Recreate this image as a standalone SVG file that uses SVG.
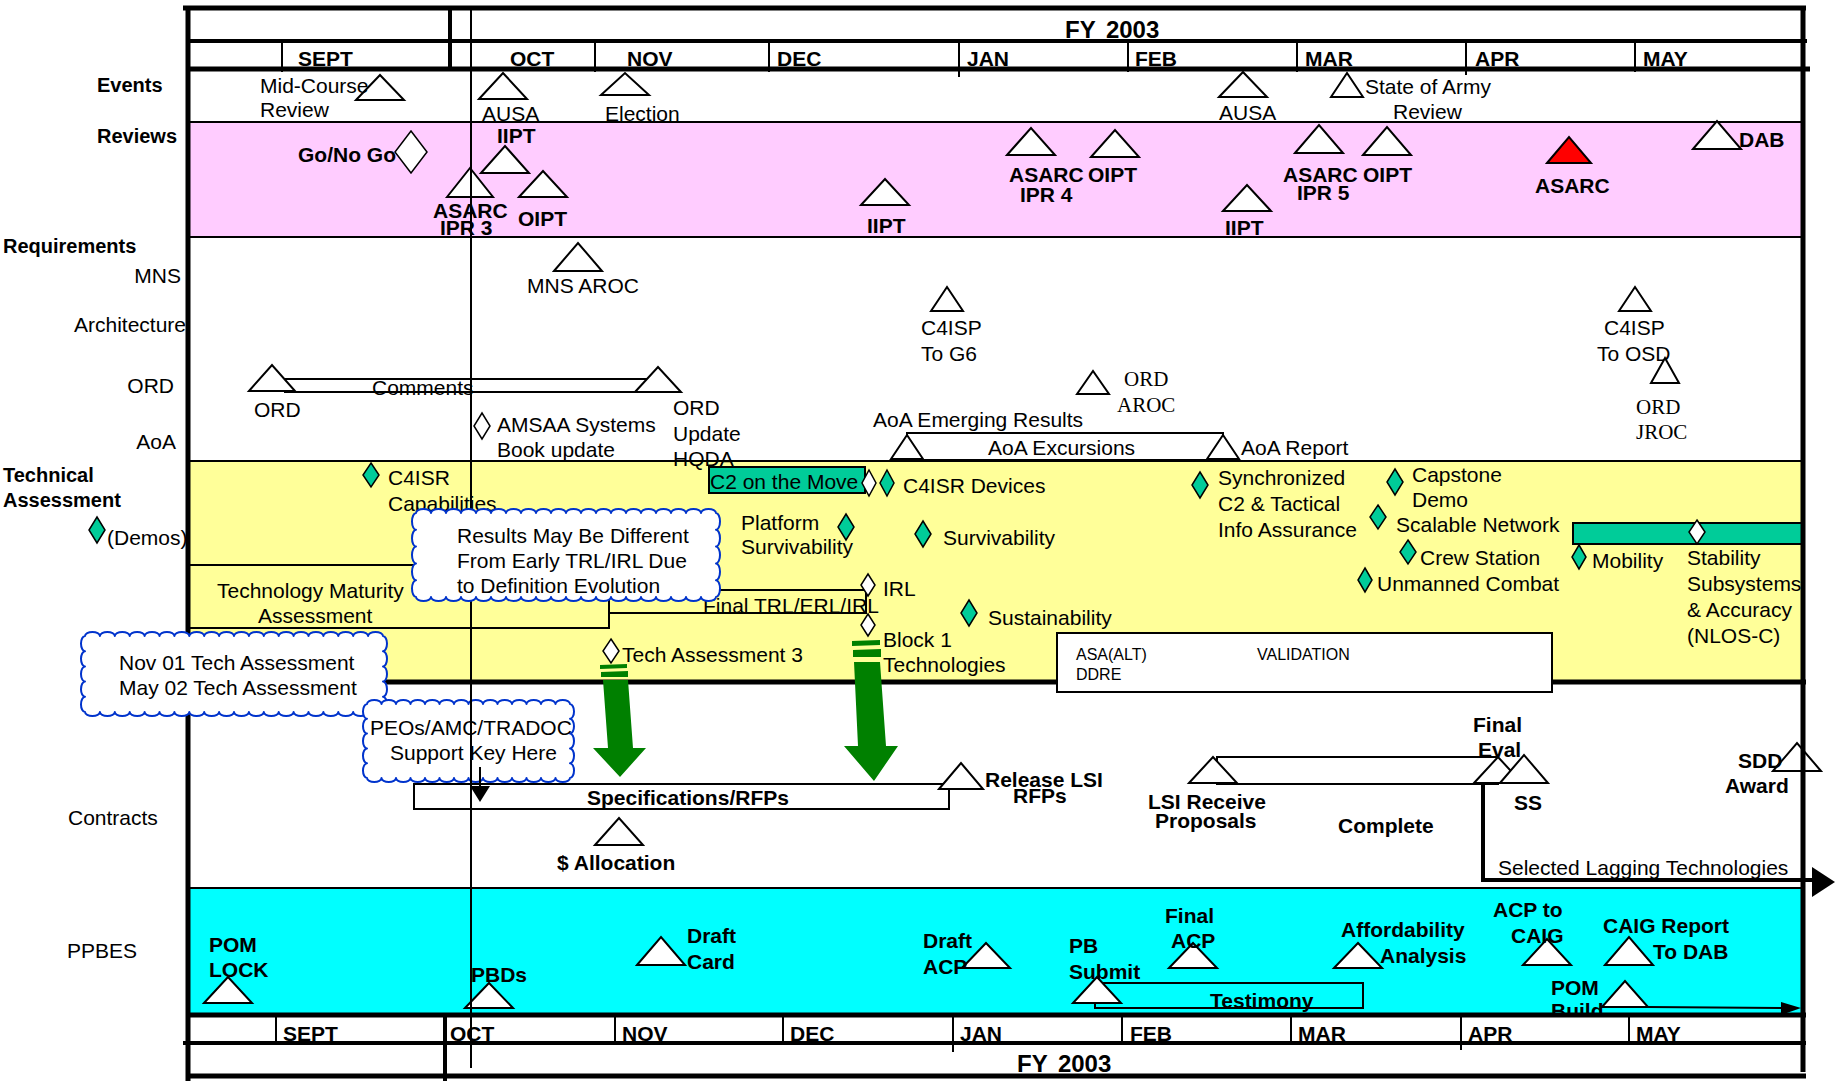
<svg xmlns="http://www.w3.org/2000/svg" width="1835" height="1081" viewBox="0 0 1835 1081">
<defs>
<style>
text{font-family:"Liberation Sans",Arial,sans-serif;font-size:21px;fill:#000}
.b{font-weight:bold}
.lb{font-weight:bold;font-size:20px}
.m{font-weight:bold;font-size:21px}
.fy{font-weight:bold;font-size:24px;word-spacing:4px}
.sf{font-family:"Liberation Serif","Times New Roman",serif}
.sm{font-size:16px}
.tri{fill:#fff;stroke:#000;stroke-width:2}
.red{fill:#f00;stroke:#000;stroke-width:2}
.dg{fill:#00CC99;stroke:#000;stroke-width:1.5}
.dw{fill:#fff;stroke:#000;stroke-width:1.5}
.bar{fill:none;stroke:#000;stroke-width:2}
.barw{fill:#fff;stroke:#000;stroke-width:2}
.gbar{fill:#00CC99;stroke:#000;stroke-width:2}
.cloud{fill:#fff;stroke:#0033CC;stroke-width:2;stroke-linejoin:round}
.thin{stroke:#000;stroke-width:2;fill:none}
.thick{stroke:#000;stroke-width:5;fill:none}
.mid{stroke:#000;stroke-width:4;fill:none}
.garrow{fill:#008000}
</style>
</defs>
<rect x="0" y="0" width="1835" height="1081" fill="#fff"/>
<g id="bands">
<rect x="188" y="122" width="1615" height="115" fill="#FFCCFF"/>
<rect x="188" y="461" width="1615" height="221" fill="#FFFF99"/>
<rect x="188" y="888" width="1615" height="127" fill="#00FFFF"/>
<line class="thin" x1="188" y1="122" x2="1803" y2="122"/>
<line class="thin" x1="188" y1="237" x2="1803" y2="237"/>
<line class="thin" x1="188" y1="461" x2="1803" y2="461"/>
<line class="thick" x1="188" y1="682" x2="1806" y2="682"/>
<line class="thin" x1="188" y1="888" x2="1803" y2="888" stroke-width="2.5"/>
</g>
<g id="row-labels">
<text class="lb" x="97" y="92">Events</text>
<text class="lb" x="97" y="143">Reviews</text>
<text class="lb" x="3" y="253">Requirements</text>
<text x="181" y="283" text-anchor="end">MNS</text>
<text x="186" y="332" text-anchor="end">Architecture</text>
<text x="174" y="393" text-anchor="end">ORD</text>
<text x="176" y="449" text-anchor="end">AoA</text>
<text class="lb" x="3" y="482">Technical</text>
<text class="lb" x="3" y="507">Assessment</text>
<polygon class="dg" points="97,517 105,530 97,543 89,530"/>
<text x="107" y="545">(Demos)</text>
<text x="68" y="825">Contracts</text>
<text x="67" y="958">PPBES</text>
</g>
<g id="bars">
<rect id="comments-bar" class="bar" x="285" y="379" width="380" height="13"/>
<rect id="aoa-bar" class="barw" x="907" y="433" width="316" height="27"/>
<rect id="tech-maturity-box" class="bar" x="188" y="565" width="421" height="63"/>
<rect id="final-trl-bar" class="bar" x="609" y="590" width="257" height="23"/>
<rect id="spec-bar" class="barw" x="414" y="784" width="535" height="25"/>
<rect id="lsi-bar" class="barw" x="1217" y="757" width="281" height="27"/>
<rect id="testimony-bar" class="bar" x="1095" y="983" width="268" height="25"/>
<rect id="c2-bar" class="gbar" x="709" y="467" width="156" height="26"/>
<rect id="stability-bar" class="gbar" x="1573" y="523" width="230" height="21"/>
</g>
<g id="events">
<g id="mid-course"><polygon class="tri" points="356,100 380,75 404,100"/><text x="260" y="93">Mid-Course</text><text x="260" y="117">Review</text></g>
<g id="ausa-oct"><polygon class="tri" points="479,99 503,73 527,99"/><text x="482" y="121">AUSA</text></g>
<g id="election"><polygon class="tri" points="601,95 625,73 649,95"/><text x="605" y="121">Election</text></g>
<g id="ausa-feb"><polygon class="tri" points="1219,97 1243,72 1267,97"/><text x="1219" y="120">AUSA</text></g>
<g id="state-of-army"><polygon class="tri" points="1331,97 1347,73 1363,97"/><text x="1365" y="94">State of Army</text><text x="1393" y="119">Review</text></g>
</g>
<g id="reviews">
<g id="go-no-go"><polygon class="dw" points="411,131 427,152 411,173 395,152"/><text class="b" x="298" y="162">Go/No Go</text></g>
<g id="asarc-ipr3"><polygon class="tri" points="447,197 470,168 493,197"/><text class="b" x="433" y="218">ASARC</text><text class="b" x="440" y="235">IPR 3</text></g>
<g id="iipt-oct"><polygon class="tri" points="481,173 505,146 529,173"/><text class="b" x="497" y="143">IIPT</text></g>
<g id="oipt-oct"><polygon class="tri" points="519,197 543,171 567,197"/><text class="b" x="518" y="226">OIPT</text></g>
<g id="iipt-dec"><polygon class="tri" points="861,205 885,179 909,205"/><text class="b" x="867" y="233">IIPT</text></g>
<g id="asarc-ipr4"><polygon class="tri" points="1007,155 1031,128 1055,155"/><text class="b" x="1009" y="182">ASARC</text><text class="b" x="1020" y="202">IPR 4</text></g>
<g id="oipt-jan"><polygon class="tri" points="1091,157 1115,130 1139,157"/><text class="b" x="1088" y="182">OIPT</text></g>
<g id="iipt-feb"><polygon class="tri" points="1223,211 1247,185 1271,211"/><text class="b" x="1225" y="235">IIPT</text></g>
<g id="asarc-ipr5"><polygon class="tri" points="1295,153 1319,125 1343,153"/><text class="b" x="1283" y="182">ASARC</text><text class="b" x="1297" y="200">IPR 5</text></g>
<g id="oipt-mar"><polygon class="tri" points="1363,155 1387,127 1411,155"/><text class="b" x="1363" y="182">OIPT</text></g>
<g id="asarc-apr"><polygon class="red" points="1547,163 1569,137 1591,163"/><text class="b" x="1535" y="193">ASARC</text></g>
<g id="dab"><polygon class="tri" points="1693,149 1717,121 1741,149"/><text class="b" x="1739" y="147">DAB</text></g>
</g>
<g id="requirements">
<g id="mns-aroc"><polygon class="tri" points="554,271 578,243 602,271"/><text x="527" y="293">MNS AROC</text></g>
<g id="c4isp-g6"><polygon class="tri" points="931,311 947,287 963,311"/><text x="921" y="335">C4ISP</text><text x="921" y="361">To G6</text></g>
<g id="c4isp-osd"><polygon class="tri" points="1619,311 1635,287 1651,311"/><text x="1604" y="335">C4ISP</text><text x="1597" y="361">To OSD</text></g>
<g id="ord-jroc"><polygon class="tri" points="1651,383 1665,358 1679,383"/><text class="sf" x="1636" y="414">ORD</text><text class="sf" x="1636" y="439">JROC</text></g>
<g id="ord-aroc"><polygon class="tri" points="1077,394 1093,371 1109,394"/><text class="sf" x="1124" y="386">ORD</text><text class="sf" x="1117" y="412">AROC</text></g>
<g id="ord"><polygon class="tri" points="249,391 272,365 295,391"/><text x="254" y="417">ORD</text></g>
<g id="comments"><text x="372" y="395">Comments</text></g>
<g id="ord-update"><polygon class="tri" points="635,392 658,367 681,392"/><text x="673" y="415">ORD</text><text x="673" y="441">Update</text><text x="673" y="466">HQDA</text></g>
<g id="amsaa"><polygon class="dw" points="482,413 490,426 482,439 474,426"/><text x="497" y="432">AMSAA Systems</text><text x="497" y="457">Book update</text></g>
<g id="aoa-emerging"><polygon class="tri" points="891,459 907,435 923,459"/><text x="873" y="427">AoA Emerging Results</text><text x="988" y="455">AoA Excursions</text></g>
<g id="aoa-report"><polygon class="tri" points="1207,459 1223,435 1239,459"/><text x="1241" y="455">AoA Report</text></g>
</g>
<g id="technical">
<g id="c4isr-cap"><polygon class="dg" points="371,463 379,475 371,487 363,475"/><text x="388" y="485">C4ISR</text><text x="388" y="511">Capabilities</text></g>
<g id="c2-move"><text x="710" y="489">C2 on the Move</text><polygon class="dw" points="869,470 876,483 869,496 862,483"/></g>
<g id="c4isr-dev"><polygon class="dg" points="887,470 894,483 887,496 880,483"/><text x="903" y="493">C4ISR Devices</text></g>
<g id="platform-surv"><polygon class="dg" points="846,514 854,527 846,540 838,527"/><text x="741" y="530">Platform</text><text x="741" y="554">Survivability</text></g>
<g id="survivability"><polygon class="dg" points="923,521 931,534 923,547 915,534"/><text x="943" y="545">Survivability</text></g>
<g id="tech-maturity"><text x="217" y="598">Technology Maturity</text><text x="258" y="623">Assessment</text></g>
<g id="final-trl"><text x="703" y="613">Final TRL/ERL/IRL</text></g>
<g id="irl"><polygon class="dw" points="868,574 875,585 868,596 861,585"/><text x="883" y="596">IRL</text></g>
<g id="sustainability"><polygon class="dg" points="969,600 977,613 969,626 961,613"/><text x="988" y="625">Sustainability</text></g>
<g id="block1"><polygon class="dw" points="868,614 875,625 868,636 861,625"/><text x="883" y="647">Block 1</text><text x="883" y="672">Technologies</text></g>
<g id="tech-assess3"><polygon class="dw" points="611,639 619,651 611,663 603,651"/><text x="622" y="662">Tech Assessment 3</text></g>
<g id="synchronized"><polygon class="dg" points="1200,472 1208,485 1200,498 1192,485"/><text x="1218" y="485">Synchronized</text><text x="1218" y="511">C2 &amp; Tactical</text><text x="1218" y="537">Info Assurance</text></g>
<g id="capstone"><polygon class="dg" points="1395,469 1403,482 1395,495 1387,482"/><text x="1412" y="482">Capstone</text><text x="1412" y="507">Demo</text></g>
<g id="scalable"><polygon class="dg" points="1378,505 1386,517 1378,529 1370,517"/><text x="1396" y="532">Scalable Network</text></g>
<g id="crew-station"><polygon class="dg" points="1408,540 1416,552 1408,564 1400,552"/><text x="1420" y="565">Crew Station</text></g>
<g id="unmanned"><polygon class="dg" points="1365,568 1372,580 1365,592 1358,580"/><text x="1377" y="591">Unmanned Combat</text></g>
<g id="mobility"><polygon class="dg" points="1579,545 1586,557 1579,569 1572,557"/><text x="1592" y="568">Mobility</text></g>
<g id="stability"><polygon class="dw" points="1697,520 1705,532 1697,544 1689,532"/><text x="1687" y="565">Stability</text><text x="1687" y="591">Subsystems</text><text x="1687" y="617">&amp; Accuracy</text><text x="1687" y="643">(NLOS-C)</text></g>
<g id="validation"><rect class="barw" x="1057" y="633" width="495" height="59"/><text class="sm" x="1076" y="660">ASA(ALT)</text><text class="sm" x="1076" y="680">DDRE</text><text class="sm" x="1257" y="660">VALIDATION</text></g>
</g>
<g id="contracts">
<g id="specs"><text class="b" x="587" y="805">Specifications/RFPs</text></g>
<g id="release-lsi"><polygon class="tri" points="939,789 961,763 983,789"/><text class="b" x="985" y="787">Release LSI</text><text class="b" x="1013" y="803">RFPs</text></g>
<g id="allocation"><polygon class="tri" points="595,845 619,818 643,845"/><text class="b" x="557" y="870">$ Allocation</text></g>
<g id="lsi-receive"><polygon class="tri" points="1189,783 1213,757 1237,783"/><text class="b" x="1148" y="809">LSI Receive</text><text class="b" x="1155" y="828">Proposals</text></g>
<g id="complete"><text class="b" x="1338" y="833">Complete</text></g>
<g id="final-eval"><polygon class="tri" points="1474,783 1498,757 1522,783"/><text class="b" x="1473" y="732">Final</text><text class="b" x="1478" y="757">Eval</text></g>
<g id="ss"><polygon class="tri" points="1500,783 1524,755 1548,783"/><text class="b" x="1514" y="810">SS</text></g>
<g id="sdd-award"><polygon class="tri" points="1773,771 1797,743 1821,771"/><text class="b" x="1738" y="768">SDD</text><text class="b" x="1725" y="793">Award</text></g>
<g id="lagging"><text x="1498" y="875">Selected Lagging Technologies</text></g>
</g>
<g id="ppbes">
<g id="pom-lock"><polygon class="tri" points="204,1003 228,977 252,1003"/><text class="b" x="209" y="952">POM</text><text class="b" x="209" y="977">LOCK</text></g>
<g id="pbds"><polygon class="tri" points="465,1008 489,983 513,1008"/><text class="b" x="471" y="982">PBDs</text></g>
<g id="draft-card"><polygon class="tri" points="637,965 661,937 685,965"/><text class="b" x="687" y="943">Draft</text><text class="b" x="687" y="969">Card</text></g>
<g id="draft-acp"><polygon class="tri" points="962,968 986,943 1010,968"/><text class="b" x="923" y="948">Draft</text><text class="b" x="923" y="974">ACP</text></g>
<g id="pb-submit"><polygon class="tri" points="1073,1003 1097,977 1121,1003"/><text class="b" x="1069" y="953">PB</text><text class="b" x="1069" y="979">Submit</text></g>
<g id="testimony"><text class="b" x="1210" y="1008">Testimony</text></g>
<g id="final-acp"><polygon class="tri" points="1169,968 1193,943 1217,968"/><text class="b" x="1165" y="923">Final</text><text class="b" x="1171" y="948">ACP</text></g>
<g id="affordability"><polygon class="tri" points="1334,968 1358,943 1382,968"/><text class="b" x="1341" y="937">Affordability</text><text class="b" x="1380" y="963">Analysis</text></g>
<g id="acp-caig"><polygon class="tri" points="1523,965 1547,939 1571,965"/><text class="b" x="1493" y="917">ACP to</text><text class="b" x="1511" y="943">CAIG</text></g>
<g id="caig-report"><polygon class="tri" points="1605,965 1629,937 1653,965"/><text class="b" x="1603" y="933">CAIG Report</text><text class="b" x="1653" y="959">To DAB</text></g>
<g id="pom-build"><polygon class="tri" points="1602,1007 1625,981 1648,1007"/><text class="b" x="1551" y="995">POM</text><text class="b" x="1551" y="1018">Build</text></g>
</g>
<g id="header">
<rect x="188" y="8" width="1615" height="61" fill="#fff"/>
<text class="fy" x="1065" y="38">FY 2003</text>
<g class="thin">
<line x1="282" y1="41" x2="282" y2="72"/><line x1="595" y1="41" x2="595" y2="72"/>
<line x1="769" y1="41" x2="769" y2="72"/><line x1="959" y1="41" x2="959" y2="77"/>
<line x1="1128" y1="41" x2="1128" y2="72"/><line x1="1297" y1="41" x2="1297" y2="72"/>
<line x1="1466" y1="41" x2="1466" y2="75"/><line x1="1635" y1="41" x2="1635" y2="72"/>
</g>
<text class="m" x="298" y="66">SEPT</text><text class="m" x="510" y="66">OCT</text>
<text class="m" x="627" y="66">NOV</text><text class="m" x="777" y="66">DEC</text>
<text class="m" x="967" y="66">JAN</text><text class="m" x="1135" y="66">FEB</text>
<text class="m" x="1305" y="66">MAR</text><text class="m" x="1475" y="66">APR</text>
<text class="m" x="1643" y="66">MAY</text>
<line class="thick" x1="183" y1="8" x2="1806" y2="8"/>
<line class="mid" x1="188" y1="41" x2="1807" y2="41"/>
<line class="thick" x1="188" y1="69" x2="1810" y2="69"/>
<line class="mid" x1="450" y1="8" x2="450" y2="69"/>
</g>
<g id="footer">
<rect x="188" y="1015" width="1615" height="61" fill="#fff"/>
<g class="thin">
<line x1="276" y1="1015" x2="276" y2="1045"/><line x1="615" y1="1015" x2="615" y2="1045"/>
<line x1="783" y1="1015" x2="783" y2="1045"/><line x1="953" y1="1015" x2="953" y2="1052"/>
<line x1="1122" y1="1015" x2="1122" y2="1045"/><line x1="1291" y1="1015" x2="1291" y2="1045"/>
<line x1="1461" y1="1015" x2="1461" y2="1050"/><line x1="1629" y1="1015" x2="1629" y2="1045"/>
</g>
<text class="m" x="283" y="1041">SEPT</text><text class="m" x="450" y="1041">OCT</text>
<text class="m" x="622" y="1041">NOV</text><text class="m" x="790" y="1041">DEC</text>
<text class="m" x="960" y="1041">JAN</text><text class="m" x="1130" y="1041">FEB</text>
<text class="m" x="1298" y="1041">MAR</text><text class="m" x="1468" y="1041">APR</text>
<text class="m" x="1636" y="1041">MAY</text>
<text class="fy" x="1017" y="1072">FY 2003</text>
<line class="thick" x1="188" y1="1015" x2="1806" y2="1015"/>
<line class="mid" x1="183" y1="1043" x2="1806" y2="1043"/>
<line class="thick" x1="188" y1="1076" x2="1806" y2="1076"/>
<line class="mid" x1="445" y1="1015" x2="445" y2="1081"/>
</g>
<g id="frame">
<line class="thick" x1="188" y1="8" x2="188" y2="1081"/>
<line class="thick" x1="1803" y1="8" x2="1803" y2="1072"/>
</g>
<g id="cloud-nov01">
<path class="cloud" d="M85,636 a7.45,4 0 0 1 14.9,0 a7.45,4 0 0 1 14.9,0 a7.45,4 0 0 1 14.9,0 a7.45,4 0 0 1 14.9,0 a7.45,4 0 0 1 14.9,0 a7.45,4 0 0 1 14.9,0 a7.45,4 0 0 1 14.9,0 a7.45,4 0 0 1 14.9,0 a7.45,4 0 0 1 14.9,0 a7.45,4 0 0 1 14.9,0 a7.45,4 0 0 1 14.9,0 a7.45,4 0 0 1 14.9,0 a7.45,4 0 0 1 14.9,0 a7.45,4 0 0 1 14.9,0 a7.45,4 0 0 1 14.9,0 a7.45,4 0 0 1 14.9,0 a7.45,4 0 0 1 14.9,0 a7.45,4 0 0 1 14.9,0 a7.45,4 0 0 1 14.9,0 a7.45,4 0 0 1 14.9,0 a4,7.6 0 0 1 0,15.2 a4,7.6 0 0 1 0,15.2 a4,7.6 0 0 1 0,15.2 a4,7.6 0 0 1 0,15.2 a4,7.6 0 0 1 0,15.2 a7.45,4 0 0 1 -14.9,0 a7.45,4 0 0 1 -14.9,0 a7.45,4 0 0 1 -14.9,0 a7.45,4 0 0 1 -14.9,0 a7.45,4 0 0 1 -14.9,0 a7.45,4 0 0 1 -14.9,0 a7.45,4 0 0 1 -14.9,0 a7.45,4 0 0 1 -14.9,0 a7.45,4 0 0 1 -14.9,0 a7.45,4 0 0 1 -14.9,0 a7.45,4 0 0 1 -14.9,0 a7.45,4 0 0 1 -14.9,0 a7.45,4 0 0 1 -14.9,0 a7.45,4 0 0 1 -14.9,0 a7.45,4 0 0 1 -14.9,0 a7.45,4 0 0 1 -14.9,0 a7.45,4 0 0 1 -14.9,0 a7.45,4 0 0 1 -14.9,0 a7.45,4 0 0 1 -14.9,0 a7.45,4 0 0 1 -14.9,0 a4,7.6 0 0 1 0,-15.2 a4,7.6 0 0 1 0,-15.2 a4,7.6 0 0 1 0,-15.2 a4,7.6 0 0 1 0,-15.2 a4,7.6 0 0 1 0,-15.2 Z"/>
<text x="119" y="670">Nov 01 Tech Assessment</text>
<text x="119" y="695">May 02 Tech Assessment</text>
</g>
<g id="cloud-peos">
<path class="cloud" d="M367,704 a7.25,4 0 0 1 14.5,0 a7.25,4 0 0 1 14.5,0 a7.25,4 0 0 1 14.5,0 a7.25,4 0 0 1 14.5,0 a7.25,4 0 0 1 14.5,0 a7.25,4 0 0 1 14.5,0 a7.25,4 0 0 1 14.5,0 a7.25,4 0 0 1 14.5,0 a7.25,4 0 0 1 14.5,0 a7.25,4 0 0 1 14.5,0 a7.25,4 0 0 1 14.5,0 a7.25,4 0 0 1 14.5,0 a7.25,4 0 0 1 14.5,0 a7.25,4 0 0 1 14.5,0 a4,7.4 0 0 1 0,14.8 a4,7.4 0 0 1 0,14.8 a4,7.4 0 0 1 0,14.8 a4,7.4 0 0 1 0,14.8 a4,7.4 0 0 1 0,14.8 a7.25,4 0 0 1 -14.5,0 a7.25,4 0 0 1 -14.5,0 a7.25,4 0 0 1 -14.5,0 a7.25,4 0 0 1 -14.5,0 a7.25,4 0 0 1 -14.5,0 a7.25,4 0 0 1 -14.5,0 a7.25,4 0 0 1 -14.5,0 a7.25,4 0 0 1 -14.5,0 a7.25,4 0 0 1 -14.5,0 a7.25,4 0 0 1 -14.5,0 a7.25,4 0 0 1 -14.5,0 a7.25,4 0 0 1 -14.5,0 a7.25,4 0 0 1 -14.5,0 a7.25,4 0 0 1 -14.5,0 a4,7.4 0 0 1 0,-14.8 a4,7.4 0 0 1 0,-14.8 a4,7.4 0 0 1 0,-14.8 a4,7.4 0 0 1 0,-14.8 a4,7.4 0 0 1 0,-14.8 Z"/>
<text x="370" y="735">PEOs/AMC/TRADOC</text>
<text x="390" y="760">Support Key Here</text>
</g>
<line id="today-line" class="thin" x1="471" y1="10" x2="471" y2="1068"/>
<g id="cloud-results">
<path class="cloud" d="M416,513 a7.5,4 0 0 1 15,0 a7.5,4 0 0 1 15,0 a7.5,4 0 0 1 15,0 a7.5,4 0 0 1 15,0 a7.5,4 0 0 1 15,0 a7.5,4 0 0 1 15,0 a7.5,4 0 0 1 15,0 a7.5,4 0 0 1 15,0 a7.5,4 0 0 1 15,0 a7.5,4 0 0 1 15,0 a7.5,4 0 0 1 15,0 a7.5,4 0 0 1 15,0 a7.5,4 0 0 1 15,0 a7.5,4 0 0 1 15,0 a7.5,4 0 0 1 15,0 a7.5,4 0 0 1 15,0 a7.5,4 0 0 1 15,0 a7.5,4 0 0 1 15,0 a7.5,4 0 0 1 15,0 a7.5,4 0 0 1 15,0 a4,8.4 0 0 1 0,16.8 a4,8.4 0 0 1 0,16.8 a4,8.4 0 0 1 0,16.8 a4,8.4 0 0 1 0,16.8 a4,8.4 0 0 1 0,16.8 a7.5,4 0 0 1 -15,0 a7.5,4 0 0 1 -15,0 a7.5,4 0 0 1 -15,0 a7.5,4 0 0 1 -15,0 a7.5,4 0 0 1 -15,0 a7.5,4 0 0 1 -15,0 a7.5,4 0 0 1 -15,0 a7.5,4 0 0 1 -15,0 a7.5,4 0 0 1 -15,0 a7.5,4 0 0 1 -15,0 a7.5,4 0 0 1 -15,0 a7.5,4 0 0 1 -15,0 a7.5,4 0 0 1 -15,0 a7.5,4 0 0 1 -15,0 a7.5,4 0 0 1 -15,0 a7.5,4 0 0 1 -15,0 a7.5,4 0 0 1 -15,0 a7.5,4 0 0 1 -15,0 a7.5,4 0 0 1 -15,0 a7.5,4 0 0 1 -15,0 a4,8.4 0 0 1 0,-16.8 a4,8.4 0 0 1 0,-16.8 a4,8.4 0 0 1 0,-16.8 a4,8.4 0 0 1 0,-16.8 a4,8.4 0 0 1 0,-16.8 Z"/>
<text x="457" y="543">Results May Be Different</text>
<text x="457" y="568">From Early TRL/IRL Due</text>
<text x="457" y="593">to Definition Evolution</text>
</g>
<g id="connectors">
<g id="arrow-tech3">
<polygon class="garrow" points="600,665 627,664 627,668 600,669"/>
<polygon class="garrow" points="601,672 628,671 628,677 601,677"/>
<polygon class="garrow" points="603,680 628,680 633,748 646,748 620,777 593,748 608,748"/>
</g>
<g id="arrow-block1">
<polygon class="garrow" points="852,641 880,640 880,645 852,646"/>
<polygon class="garrow" points="853,650 881,649 881,657 853,657"/>
<polygon class="garrow" points="854,662 880,662 886,746 898,746 874,781 844,746 858,746"/>
</g>
<g id="arrow-peos">
<line class="thin" x1="480" y1="767" x2="480" y2="788"/>
<polygon points="470,786 490,786 480,802" fill="#000"/>
</g>
<g id="arrow-lagging">
<path class="mid" d="M1483,783 V880 H1813"/>
<polygon points="1812,867 1835,882 1812,897" fill="#000"/>
</g>
<g id="arrow-pom-build">
<line class="thin" x1="1648" y1="1007" x2="1790" y2="1008"/>
<polygon points="1781,1002 1801,1008 1781,1015" fill="#000"/>
</g>
</g>
</svg>
